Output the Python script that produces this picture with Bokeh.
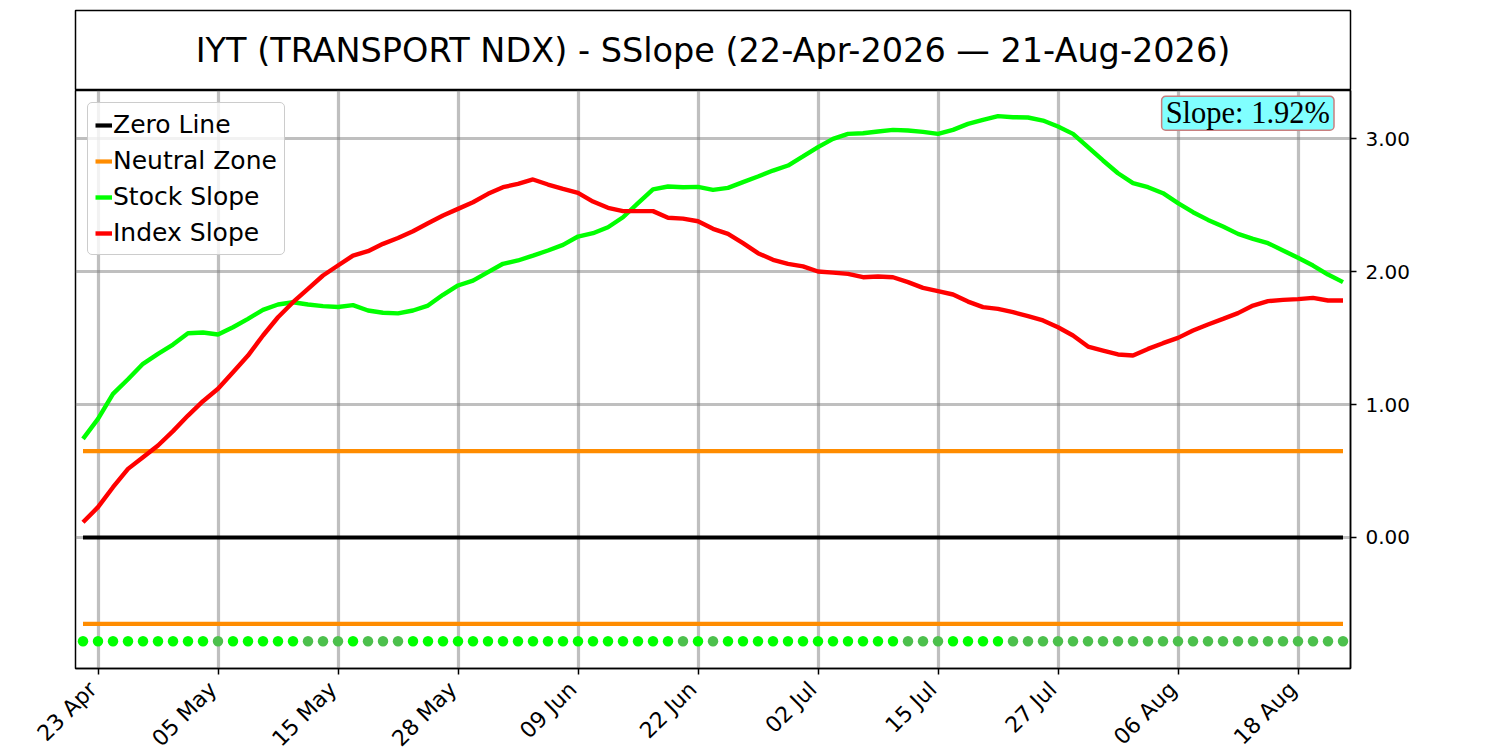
import math
import numpy as np
from bokeh.plotting import figure
from bokeh.models import Range1d, FixedTicker, PrintfTickFormatter, Label, LinearAxis
from bokeh.layouts import column
from bokeh.embed import file_html
from bokeh.resources import INLINE

TITLE = "IYT (TRANSPORT NDX) - SSlope (22-Apr-2026 \u2014 21-Aug-2026)"

STOCK_SLOPE = [
    0.742, 0.892, 1.080, 1.190, 1.306, 1.381, 1.451, 1.536, 1.541, 1.526,
    1.581, 1.644, 1.712, 1.752, 1.769, 1.752, 1.740, 1.733, 1.747, 1.707,
    1.690, 1.685, 1.707, 1.744, 1.825, 1.895, 1.932, 1.995, 2.058, 2.083,
    2.120, 2.158, 2.200, 2.263, 2.288, 2.333, 2.408, 2.514, 2.617, 2.639,
    2.634, 2.636, 2.614, 2.629, 2.672, 2.714, 2.759, 2.797, 2.865, 2.935,
    2.997, 3.035, 3.040, 3.053, 3.065, 3.060, 3.050, 3.035, 3.065, 3.110,
    3.140, 3.168, 3.160, 3.158, 3.135, 3.090, 3.035, 2.935, 2.835, 2.739,
    2.664, 2.634, 2.589, 2.514, 2.446, 2.388, 2.338, 2.283, 2.246, 2.213,
    2.158, 2.103, 2.045, 1.977, 1.920,
]

INDEX_SLOPE = [
    0.115, 0.228, 0.378, 0.516, 0.604, 0.692, 0.800, 0.917, 1.025, 1.118,
    1.243, 1.368, 1.519, 1.656, 1.769, 1.870, 1.970, 2.045, 2.120, 2.153,
    2.208, 2.252, 2.303, 2.363, 2.421, 2.471, 2.521, 2.584, 2.634, 2.659,
    2.692, 2.654, 2.621, 2.591, 2.526, 2.479, 2.454, 2.454, 2.454, 2.404,
    2.398, 2.378, 2.321, 2.283, 2.213, 2.138, 2.088, 2.058, 2.038, 2.000,
    1.992, 1.982, 1.957, 1.962, 1.957, 1.920, 1.877, 1.852, 1.827, 1.774,
    1.732, 1.719, 1.694, 1.665, 1.632, 1.581, 1.519, 1.436, 1.406, 1.376,
    1.368, 1.418, 1.461, 1.501, 1.556, 1.602, 1.644, 1.687, 1.744, 1.777,
    1.787, 1.792, 1.802, 1.782, 1.782,
]

TICK_POS = [1, 9, 17, 25, 33, 41, 49, 57, 65, 73, 81]
TICK_LABELS = ["23 Apr", "05 May", "15 May", "28 May", "09 Jun", "22 Jun",
               "02 Jul", "15 Jul", "27 Jul", "06 Aug", "18 Aug"]
Y_TICKS = [0, 1, 2, 3]

ZERO = 0.0
NEUTRAL = 0.65
DOT_LEVEL = -0.78

BRIGHT = "#00ff00"
MUTED = "#4cc04c"

idx = np.arange(len(STOCK_SLOPE))
rising = np.concatenate([[True], np.diff(STOCK_SLOPE) > 0])
dot_colors = [BRIGHT if r else MUTED for r in rising]

FRAME_W = 1275
FRAME_H = 578
LEFT = 75
RIGHT = 70
Y_MIN, Y_MAX = -0.985, 3.361
LABEL_SHIFT = 0.35   # rotated labels end at their tick (matplotlib ha="right")

# ---------- header (title box) ----------
header = figure(frame_width=FRAME_W, frame_height=80, x_range=Range1d(0, 1), y_range=Range1d(0, 1),
                x_axis_type=None, y_axis_type=None, output_backend="svg", toolbar_location=None,
                title=None, min_border_left=LEFT, min_border_right=RIGHT, min_border_top=10,
                min_border_bottom=0)
header.outline_line_color = "black"
header.outline_line_width = 1.5
header.outline_line_alpha = 1.0
header.add_layout(Label(x=0.5, y=0.5, text=TITLE, text_align="center", text_baseline="middle",
                        text_font="DejaVu Sans", text_font_size="33.5px", text_color="black"))

# ---------- main plot ----------
x0, x1 = -0.5, len(STOCK_SLOPE) - 0.5
p = figure(frame_width=FRAME_W, frame_height=FRAME_H, x_range=Range1d(x0, x1),
           y_range=Range1d(Y_MIN, Y_MAX), y_axis_location="right", output_backend="svg",
           toolbar_location=None, title=None, min_border_left=LEFT, min_border_right=RIGHT,
           min_border_top=0, min_border_bottom=0)
p.outline_line_color = "black"
p.outline_line_width = 1.5
p.outline_line_alpha = 1.0

p.xaxis.ticker = FixedTicker(ticks=TICK_POS)
p.xaxis.major_label_overrides = {t: "" for t in TICK_POS}
p.xaxis.major_label_standoff = 0
p.yaxis.ticker = FixedTicker(ticks=Y_TICKS)
p.yaxis.formatter = PrintfTickFormatter(format="%.2f")
for ax in (p.xaxis, p.yaxis):
    ax.minor_tick_line_color = None
    ax.major_tick_out = 6
    ax.major_tick_in = 0
    ax.major_tick_line_width = 1.5
    ax.major_tick_line_color = "black"
    ax.axis_line_width = 1.5
    ax.axis_line_color = "black"
    ax.major_label_text_font = "DejaVu Sans"
    ax.major_label_text_color = "black"
p.yaxis.major_label_text_font_size = "20px"
p.yaxis.major_label_standoff = 9

# date labels on their own axis, nudged so each label ends at its tick
lab_ticks = [round(t - LABEL_SHIFT, 3) for t in TICK_POS]
date_axis = LinearAxis(ticker=FixedTicker(ticks=lab_ticks),
                       major_label_overrides={t: l for t, l in zip(lab_ticks, TICK_LABELS)},
                       major_label_orientation=math.pi / 4, major_label_standoff=5,
                       major_label_text_font="DejaVu Sans", major_label_text_font_size="22px",
                       major_label_text_color="black", major_tick_line_color=None,
                       minor_tick_line_color=None, axis_line_color=None)
p.add_layout(date_axis, "below")

p.xgrid.ticker = FixedTicker(ticks=TICK_POS)
for g in (p.xgrid, p.ygrid):
    g.grid_line_color = "gray"
    g.grid_line_alpha = 0.5
    g.grid_line_width = 3.2

xe = [idx[0], idx[-1]]
p.line(xe, [ZERO, ZERO], line_color="black", line_width=4.2, legend_label="Zero Line")
p.multi_line([xe, xe], [[NEUTRAL, NEUTRAL], [-NEUTRAL, -NEUTRAL]], line_color="#ff8c00",
             line_width=4.2, legend_label="Neutral Zone")
p.line(idx, STOCK_SLOPE, line_color="#00ff00", line_width=4.4, legend_label="Stock Slope")
p.line(idx, INDEX_SLOPE, line_color="#ff0000", line_width=4.4, legend_label="Index Slope")
p.scatter(idx, [DOT_LEVEL] * len(idx), size=10.5, fill_color=dot_colors, line_color=None)

lg = p.legend[0]
lg.location = "top_left"
lg.margin = 12
lg.padding = 7
lg.spacing = 7
lg.glyph_width = 17
lg.glyph_height = 28
lg.label_height = 28
lg.label_standoff = 1
lg.label_text_font = "DejaVu Sans"
lg.label_text_font_size = "25px"
lg.label_text_color = "black"
lg.border_line_color = "#cccccc"
lg.border_line_width = 1
lg.border_line_alpha = 1
lg.background_fill_color = "white"
lg.background_fill_alpha = 0.8
try:
    lg.border_radius = 5
except Exception:
    pass

slope_label = Label(x=x1 - 1.1, y=3.19, text=f"Slope: {STOCK_SLOPE[-1]:.2f}%",
                    text_align="right", text_baseline="middle",
                    text_font="Liberation Serif", text_font_size="30.5px", text_color="black",
                    background_fill_color="#80ffff", background_fill_alpha=1.0,
                    border_line_color="#c87f7f", border_line_width=1.5)
try:
    slope_label.border_radius = 4
except Exception:
    pass
try:
    slope_label.padding = dict(left=4, right=4, top=0, bottom=0)
except Exception:
    try:
        slope_label.padding = 3
    except Exception:
        pass
p.add_layout(slope_label)

layout = column(header, p, spacing=0)
open("out.html", "w").write(file_html(layout, INLINE))
